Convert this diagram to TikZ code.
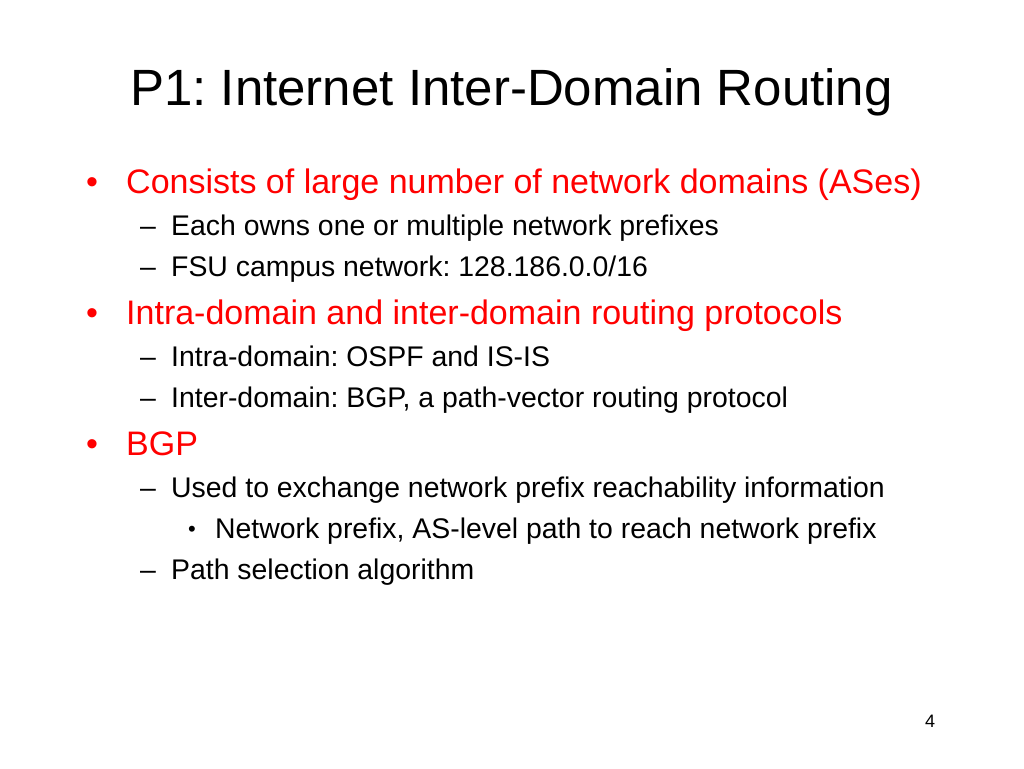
\documentclass[tikz,border=0pt]{standalone}
\usepackage{fontspec}
\setmainfont{Liberation Sans}
\begin{document}
\frenchspacing
\begin{tikzpicture}[x=1pt,y=-1pt,
  lone/.style={anchor=base west,text=red,font=\fontsize{34}{38}\selectfont,inner sep=0},
  ltwo/.style={anchor=base west,font=\fontsize{28.4}{32}\selectfont,inner sep=0},
  ttl/.style={anchor=base west,font=\fontsize{51}{56}\selectfont,inner sep=0}]
\useasboundingbox (0,0) rectangle (1024,768);
\node[ttl] (t) at (130,105) {P1: Internet Inter-Domain Routing};
\node[lone] (b1d) at (86,193) {•};
\node[lone] (b1) at (126,193) {Consists of large number of network domains (ASes)};
\node[ltwo] (s1d) at (140,235) {–};
\node[ltwo] (s1) at (171,235) {Each owns one or multiple network prefixes};
\node[ltwo] (s2d) at (140,276) {–};
\node[ltwo] (s2) at (171,276) {FSU campus network: 128.186.0.0/16};
\node[lone] (b2d) at (86,324) {•};
\node[lone] (b2) at (126,324) {Intra-domain and inter-domain routing protocols};
\node[ltwo] (s3d) at (140,366) {–};
\node[ltwo] (s3) at (171,366) {Intra-domain: OSPF and IS-IS};
\node[ltwo] (s4d) at (140,407) {–};
\node[ltwo] (s4) at (171,407) {Inter-domain: BGP, a path-vector routing protocol};
\node[lone] (b3d) at (86,455) {•};
\node[lone] (b3) at (126,455) {BGP};
\node[ltwo] (s5d) at (140,497) {–};
\node[ltwo] (s5) at (171,497) {Used to exchange network prefix reachability information};
\node[ltwo,font=\fontsize{22}{26}\selectfont] (u1d) at (188,536) {•};
\node[ltwo] (u1) at (215,538) {Network prefix, AS-level path to reach network prefix};
\node[ltwo] (s6d) at (140,579) {–};
\node[ltwo] (s6) at (171,579) {Path selection algorithm};
\node[anchor=base west,font=\fontsize{18}{20}\selectfont,inner sep=0] (pg) at (925,727) {4};
\end{tikzpicture}
\end{document}
